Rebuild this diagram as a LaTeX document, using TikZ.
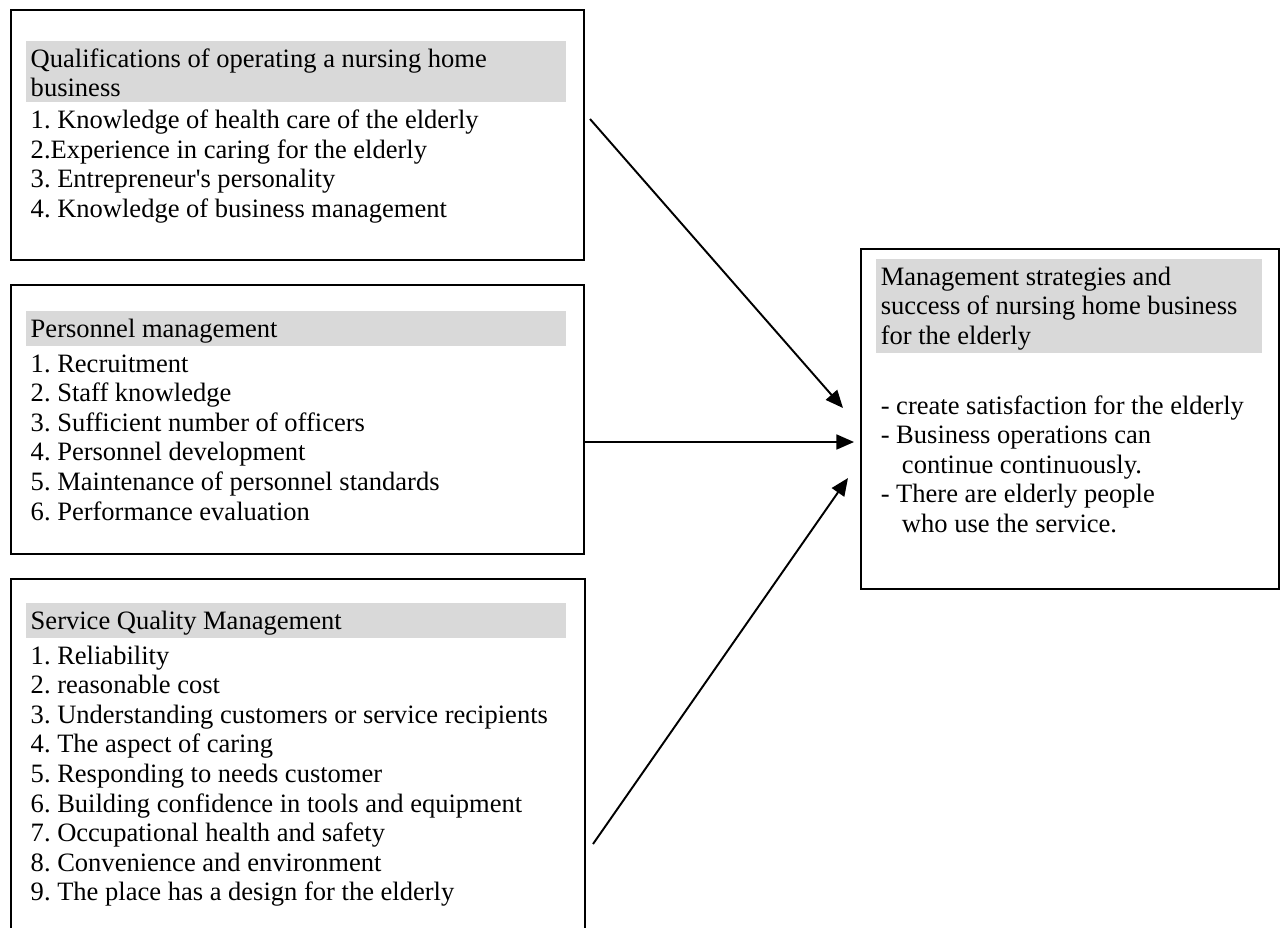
\documentclass[tikz,border=0pt]{standalone}
\usepackage{fontspec}
\setmainfont{Liberation Serif}
\usetikzlibrary{arrows.meta}

\newcommand{\topstrut}{\spaceskip=0pt\relax\xspaceskip=0pt\relax\rule{0pt}{13.3pt}}
\newcommand{\botstrut}{\rule[-1.4pt]{0pt}{1.4pt}}

\begin{document}
\frenchspacing
\begin{tikzpicture}[x=0.02cm, y=-0.02cm, font=\fontsize{15.1}{16.8}\selectfont]
    \clip (0,0) rectangle (1280,927);

    % Outer frames
    \begin{scope}[every node/.style={draw, line width=1.2pt, inner sep=0pt, anchor=north west}]
        \node [minimum width=11.46cm, minimum height=5cm]    (qual) at (10,9)    {};
        \node [minimum width=11.46cm, minimum height=5.38cm] (pers) at (10,284)  {};
        \node [minimum width=11.48cm, minimum height=7.5cm]  (serv) at (10,578)  {};
        \node [minimum width=8.36cm,  minimum height=6.8cm]  (goal) at (860,248) {};
    \end{scope}

    % Grey headings
    \begin{scope}[every node/.style={fill=gray!30, anchor=north west, align=left,
                  inner xsep=2.5pt, inner ysep=1.5pt, text width=10.62cm,
                  execute at begin node=\topstrut, execute at end node=\botstrut}]
        \node (qualhead) at (26,41)  {Qualifications of operating a nursing home\\business};
        \node (pershead) at (26,311) {Personnel management};
        \node (servhead) at (26,603) {Service Quality Management};
        \node [text width=7.54cm] (goalhead) at (876,259)
            {Management strategies and\\success of nursing home business\\for the elderly};
    \end{scope}

    % Item lists
    \begin{scope}[every node/.style={anchor=north west, align=left,
                  inner xsep=2.5pt, inner ysep=1.5pt, text width=10.62cm,
                  execute at begin node=\topstrut, execute at end node=\botstrut}]
        \node (qualitems) at (qualhead.south west)
            {1. Knowledge of health care of the elderly\\
             2.Experience in caring for the elderly\\
             3. Entrepreneur\textquotesingle s personality\\
             4. Knowledge of business management};
        \node (persitems) at (pershead.south west)
            {1. Recruitment\\
             2. Staff knowledge\\
             3. Sufficient number of officers\\
             4. Personnel development\\
             5. Maintenance of personnel standards\\
             6. Performance evaluation};
        \node (servitems) at (servhead.south west)
            {1. Reliability\\
             2. reasonable cost\\
             3. Understanding customers or service recipients\\
             4. The aspect of caring\\
             5. Responding to needs customer\\
             6. Building confidence in tools and equipment\\
             7. Occupational health and safety\\
             8. Convenience and environment\\
             9. The place has a design for the elderly};
        \node [text width=7.54cm] (goalitems) at (goalhead.south west)
            {\mbox{}\\[3pt]
             - create satisfaction for the elderly\\
             - Business operations can\\
             \hspace*{0.8em}continue continuously.\\
             - There are elderly people\\
             \hspace*{0.8em}who use the service.};
    \end{scope}

    % Arrows into the result box
    \begin{scope}[>={Triangle[length=10pt,width=8.5pt]},
                  every edge/.style={draw=black, line width=1.1pt}]
        \path [->] ([shift={(5,110)}]qual.north east) edge ([shift={(-17,160)}]goal.north west);
        \path [->] ([shift={(0,158)}]pers.north east) edge ([shift={(-6,194)}]goal.north west);
        \path [->] ([shift={(7,266)}]serv.north east) edge ([shift={(-12,230)}]goal.north west);
    \end{scope}
\end{tikzpicture}
\end{document}
